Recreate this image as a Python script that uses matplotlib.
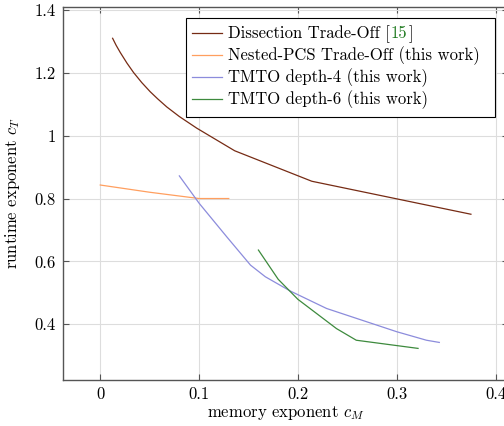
"""
Runtime vs memory exponent trade-off curves (pgfplots-like look).
"""

import matplotlib
matplotlib.use("Agg")

import matplotlib.pyplot as plt
import matplotlib.ticker as ticker
from matplotlib.lines import Line2D
from matplotlib.patches import Rectangle
from matplotlib.transforms import offset_copy

plt.rcParams.update({
    "font.family": "cmr10",
    "mathtext.fontset": "cm",
    "axes.formatter.use_mathtext": True,
    "font.size": 12,
})

# ── data ────────────────────────────────────────────────────────────────
diss_m = [0.0125, 0.016, 0.0202, 0.027, 0.0337, 0.042, 0.0505, 0.058,
          0.0673, 0.08, 0.0976, 0.136, 0.214, 0.375]
diss_t = [1.310, 1.288, 1.265, 1.231, 1.201, 1.169, 1.140, 1.1175,
          1.0915, 1.061, 1.024, 0.952, 0.855, 0.750]

pcs_m = [0.0, 0.05, 0.10, 0.13]
pcs_t = [0.843, 0.820, 0.800, 0.800]

d4_m = [0.080, 0.100, 0.128, 0.152, 0.167, 0.192, 0.229, 0.300, 0.330, 0.343]
d4_t = [0.872, 0.785, 0.678, 0.588, 0.551, 0.506, 0.450, 0.376, 0.349, 0.342]

d6_m = [0.160, 0.180, 0.200, 0.239, 0.259, 0.3215]
d6_t = [0.636, 0.543, 0.479, 0.386, 0.349, 0.323]

x_ticks = [0.0, 0.1, 0.2, 0.3, 0.4]
y_ticks = [0.4, 0.6, 0.8, 1.0, 1.2, 1.4]

labels = [
    "Dissection Trade-Off [",
    "Nested-PCS Trade-Off (this work)",
    "TMTO depth-4 (this work)",
    "TMTO depth-6 (this work)",
]
cite = "15"

C_DISS = "#762b14"
C_PCS = "#ff9f5f"
C_D4 = "#8c8cdc"
C_D6 = "#3d8a3d"
C_CITE = "#1f7a1f"
C_AXIS = "#555555"

# ── plot ────────────────────────────────────────────────────────────────
fig = plt.figure(figsize=(5.04, 4.26), dpi=100)
ax = fig.add_axes([63 / 504, 46.5 / 426, 445 / 504, 372.5 / 426])

series = [
    (diss_m, diss_t, C_DISS),
    (pcs_m, pcs_t, C_PCS),
    (d4_m, d4_t, C_D4),
    (d6_m, d6_t, C_D6),
]
for xs, ys, col in series:
    ax.plot(xs, ys, color=col, lw=0.9, zorder=3)

ax.set_xlim(-0.0377, 0.4125)
ax.set_ylim(0.224, 1.4096)
ax.xaxis.set_major_locator(ticker.FixedLocator(x_ticks))
ax.yaxis.set_major_locator(ticker.FixedLocator(y_ticks))
fmt = ticker.FuncFormatter(lambda v, _: f"{v:g}")
ax.xaxis.set_major_formatter(fmt)
ax.yaxis.set_major_formatter(fmt)

ax.grid(color="#dddddd", lw=0.8, zorder=0)
ax.tick_params(direction="in", top=True, right=True, length=4.5,
               width=0.8, color=C_AXIS, pad=5)
for sp in ax.spines.values():
    sp.set_color(C_AXIS)
    sp.set_linewidth(1.0)

ax.set_xlabel("memory exponent $c_M$")
ax.set_ylabel("runtime exponent $c_T$")
ax.xaxis.set_label_coords(0.5, -0.066)
ax.yaxis.set_label_coords(-0.092, 0.5)

# ── hand-made legend (needs a coloured citation) ────────────────────────
lx0, lx1, ly0, ly1 = 0.2764, 0.9708, 0.706, 0.9705
ax.add_patch(Rectangle((lx0, ly0), lx1 - lx0, ly1 - ly0,
                       transform=ax.transAxes, facecolor="white",
                       edgecolor="black", lw=0.8, zorder=5))
row_y = [0.930, 0.871, 0.811, 0.752]
texts = []
for y, lab, (_, _, col) in zip(row_y, labels, series):
    ax.add_line(Line2D([0.29, 0.357], [y, y], transform=ax.transAxes,
                       color=col, lw=0.9, zorder=6))
    texts.append(ax.text(0.371, y - 0.013, lab, transform=ax.transAxes,
                         va="baseline", zorder=6))

fig.canvas.draw()
r = fig.canvas.get_renderer()
w0 = texts[0].get_window_extent(r).width * 72 / fig.dpi + 0.6
t_cite = ax.text(0.371, row_y[0] - 0.013, cite, color=C_CITE,
                 transform=offset_copy(ax.transAxes, fig, x=w0, units="points"),
                 va="baseline", zorder=6)
fig.canvas.draw()
w1 = w0 + t_cite.get_window_extent(r).width * 72 / fig.dpi + 0.6
ax.text(0.371, row_y[0] - 0.013, "]",
        transform=offset_copy(ax.transAxes, fig, x=w1, units="points"),
        va="baseline", zorder=6)

fig.savefig("out.png", dpi=100)
